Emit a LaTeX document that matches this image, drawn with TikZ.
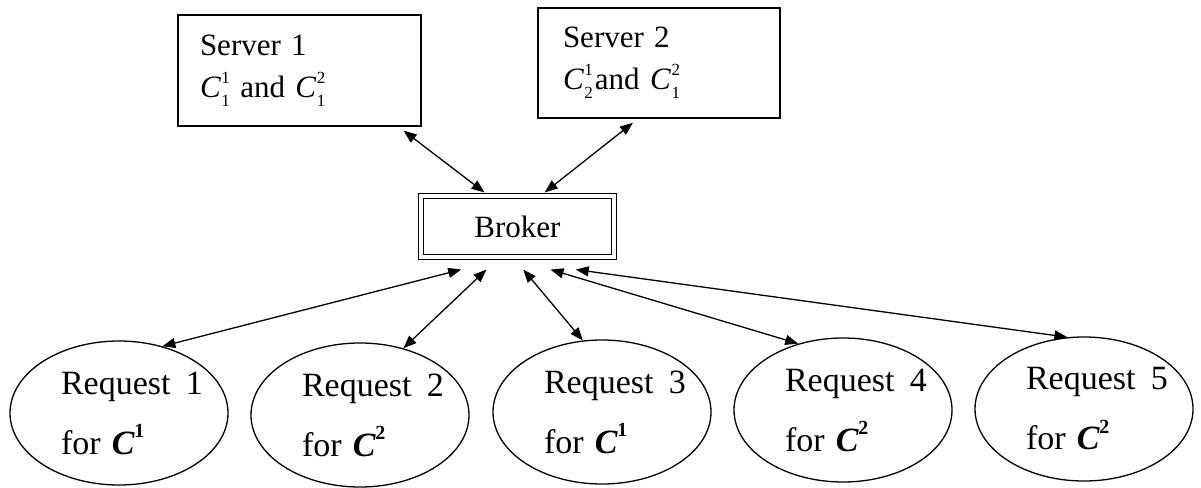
\documentclass[tikz,border=0pt]{standalone}
\usepackage{fontspec}
\setmainfont{Liberation Serif}
\usetikzlibrary{arrows.meta,calc,shapes.geometric}

% small indices for the component names
\newcommand\scrnum[1]{{\fontsize{17}{17}\selectfont #1}}
\newcommand\Csub[2]{\textit{C}\kern0.5pt\rlap{\raisebox{0.45em}{\scrnum{#2}}}\raisebox{-0.3em}{\scrnum{#1}}}
\newcommand\Creq[1]{\textbf{\textit{C}}\kern-0.5pt\raisebox{0.48em}{\bfseries\fontsize{20}{20}\selectfont #1}}
\newcommand\reqline[1]{\mbox{Request\hspace{0.45em}#1}}

\begin{document}
\begin{tikzpicture}[x=1pt,y=-1pt,
  serverbox/.style={draw, line width=1.4pt, rectangle, inner sep=0pt, align=left,
    font=\fontsize{31}{42}\selectfont},
  brokerbox/.style={draw, double, double distance=4.2pt, line width=1.1pt,
    minimum width=193pt, minimum height=61pt, inner sep=0pt,
    font=\fontsize{31}{36}\selectfont},
  request/.style={ellipse, draw, line width=1.3pt, minimum width=218pt,
    minimum height=144pt, inner sep=0pt, text width=116pt, align=left,
    font=\fontsize{34}{60}\selectfont},
  link/.style={{Triangle[length=13pt,width=10pt]}-{Triangle[length=13pt,width=10pt]},
    line width=1.3pt}]

\useasboundingbox (0,0) rectangle (1201,487);
\fill[white] (0,0) rectangle (1201,487);

% servers
\node[serverbox, minimum width=243pt, minimum height=111pt, text width=199pt]
  (s1) at (299.5,70.5) {Server 1\\ \Csub{1}{1} and \Csub{1}{2}};
\node[serverbox, minimum width=242pt, minimum height=110pt, text width=192pt]
  (s2) at (659,63) {Server 2\\ \Csub{2}{1}\kern2pt and \Csub{1}{2}};

% broker
\node[brokerbox] (b) at (517.5,226.5) {Broker};

% requests
\node[request] (r1) at (119,413)  {\reqline{1}\\ for \Creq{1}};
\node[request] (r2) at (360,415)  {\reqline{2}\\ for \Creq{2}};
\node[request] (r3) at (602,412)  {\reqline{3}\\ for \Creq{1}};
\node[request] (r4) at (843,410)  {\reqline{4}\\ for \Creq{2}};
\node[request] (r5) at (1084,409) {\reqline{5}\\ for \Creq{2}};

% server links
\draw[link] ($(s1.south west)!0.926!(s1.south east)+(0,4)$) -- ($(b.north west)!0.33!(b.north east)+(0,-3)$);
\draw[link] ($(s2.south west)!0.393!(s2.south east)+(0,4)$) -- ($(b.north west)!0.64!(b.north east)+(0,-3)$);

% request links
\draw[link] ($(b.south west)!0.21!(b.south east)+(0,12)$) -- (r1.57);
\draw[link] ($(b.south west)!0.34!(b.south east)+(0,12)$) -- (r2.57);
\draw[link] ($(b.south west)!0.53!(b.south east)+(0,12)$) -- (r3.105);
\draw[link] ($(b.south west)!0.67!(b.south east)+(0,12)$) -- (r4.124);
\draw[link] ($(b.south west)!0.80!(b.south east)+(0,12)$) -- (r5.103);
\end{tikzpicture}
\end{document}
